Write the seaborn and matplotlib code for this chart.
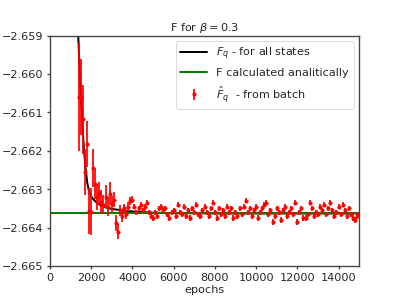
import numpy as np
import pandas as pd
import matplotlib
matplotlib.use("Agg")
import matplotlib.pyplot as plt
import seaborn as sns

# black curve: F_q for all states
curve_epochs = [1376, 1420, 1460, 1507, 1560, 1610, 1653, 1700, 1750, 1815, 1900, 2000,
                2105, 2250, 2400, 2591, 2800, 3100, 3403, 3800, 4300, 5000, 6000, 8000, 15000]
curve_values = [-2.65900, -2.65960, -2.66012, -2.66060, -2.66110, -2.66160, -2.66198, -2.66225,
                -2.66255, -2.66284, -2.66305, -2.66318, -2.66326, -2.66334, -2.66340, -2.66345,
                -2.66349, -2.66352, -2.66354, -2.66357, -2.66359, -2.66361, -2.66362, -2.66363,
                -2.66363]

# analytic value
analytic_epochs = [0, 15000]
analytic_values = [-2.66363, -2.66363]

# batch estimates with error bars
batch_epochs = list(range(1400, 15001, 100))
batch_values = [
    -2.66060, -2.66060, -2.66118, -2.66255, -2.66183, -2.66356, -2.66358, -2.66245, -2.66285, -2.66320,
    -2.66310, -2.66332, -2.66340, -2.66319, -2.66345, -2.66312, -2.66338, -2.66327, -2.66388, -2.66410,
    -2.66355, -2.66370, -2.66350, -2.66365, -2.66345, -2.66330, -2.66327, -2.66345, -2.66360, -2.66350,
    -2.66340, -2.66355, -2.66345, -2.66335, -2.66360, -2.66370, -2.66375, -2.66360, -2.66370, -2.66350,
    -2.66345, -2.66355, -2.66350, -2.66365, -2.66375, -2.66360, -2.66355, -2.66370, -2.66340, -2.66360,
    -2.66365, -2.66345, -2.66370, -2.66355, -2.66375, -2.66350, -2.66360, -2.66340, -2.66365, -2.66370,
    -2.66355, -2.66345, -2.66360, -2.66370, -2.66350, -2.66335, -2.66360, -2.66375, -2.66350, -2.66365,
    -2.66355, -2.66370, -2.66345, -2.66360, -2.66350, -2.66375, -2.66360, -2.66370, -2.66350, -2.66365,
    -2.66345, -2.66330, -2.66360, -2.66350, -2.66370, -2.66355, -2.66345, -2.66375, -2.66360, -2.66350,
    -2.66340, -2.66335, -2.66365, -2.66355, -2.66385, -2.66370, -2.66350, -2.66360, -2.66380, -2.66355,
    -2.66345, -2.66370, -2.66360, -2.66350, -2.66365, -2.66335, -2.66385, -2.66360, -2.66350, -2.66375,
    -2.66375, -2.66365, -2.66335, -2.66350, -2.66370, -2.66360, -2.66365, -2.66345, -2.66355, -2.66340,
    -2.66365, -2.66350, -2.66335, -2.66355, -2.66370, -2.66360, -2.66345, -2.66365, -2.66340, -2.66355,
    -2.66370, -2.66350, -2.66365, -2.66375, -2.66380, -2.66370, -2.66365,
]
batch_errors = [
    0.00140, 0.00100, 0.00090, 0.00060, 0.00060, 0.00060, 0.00060, 0.00050, 0.00040, 0.00035,
    0.00030, 0.00030, 0.00025, 0.00030, 0.00025, 0.00030, 0.00020, 0.00020, 0.00020, 0.00020,
    0.00015, 0.00015, 0.00012, 0.00012, 0.00012, 0.00010, 0.00010,
] + [0.00007] * 110

sns.set_style("ticks")
plt.rcParams['font.family'] = ['DejaVu Sans']
plt.rcParams['axes.edgecolor'] = '#444444'
plt.rcParams['axes.linewidth'] = 1.6

fig, ax = plt.subplots(figsize=(6.4, 4.8), dpi=62.35)
fig.subplots_adjust(left=0.125, right=0.9, top=0.88, bottom=0.11)

curve_df = pd.DataFrame({"epochs": curve_epochs, "F": curve_values})
analytic_df = pd.DataFrame({"epochs": analytic_epochs, "F": analytic_values})

sns.lineplot(data=curve_df, x="epochs", y="F", ax=ax, color="black", lw=2.3,
             label="$F_q$ - for all states")
sns.lineplot(data=analytic_df, x="epochs", y="F", ax=ax, color="green", lw=2.3,
             label="F calculated analitically")
ax.errorbar(batch_epochs, batch_values, yerr=batch_errors, fmt=".", color="red",
            ecolor="red", markersize=7.5, elinewidth=2.0, label=r"$\hat{F}_q$  - from batch")

ax.set_xlim(0, 15000)
ax.set_ylim(-2.665, -2.659)
ax.set_xticks(np.arange(0, 15000, 2000))
ax.set_yticks(np.arange(-2.665, -2.6589, 0.001))
ax.yaxis.set_major_formatter(matplotlib.ticker.FuncFormatter(lambda v, p: ("%.3f" % v).replace("-", "\u2212")))
ax.set_xlabel("epochs", fontsize=13, labelpad=2)
ax.set_ylabel("")
ax.set_title(r"F for $\beta = 0.3$", fontsize=13)
ax.tick_params(labelsize=13, direction="out", length=4, width=1.6, color="#444444")
for s in ax.spines.values():
    s.set_visible(True)
ax.legend(loc="upper right", fontsize=13, frameon=True, handlelength=2.4)

fig.savefig("out.png", dpi=62.35)
